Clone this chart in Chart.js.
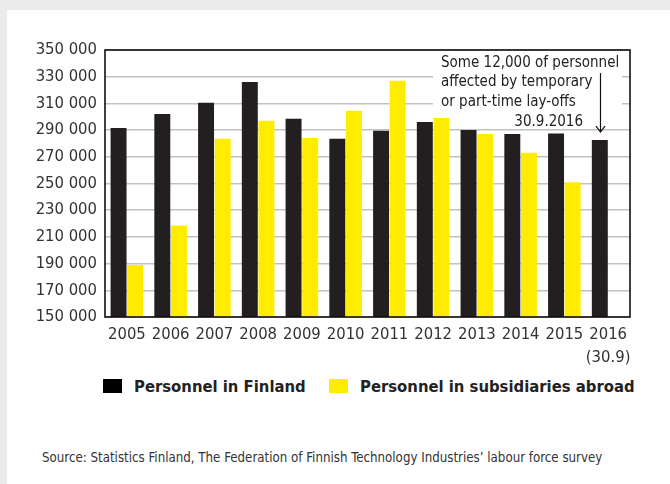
<!DOCTYPE html>
<html>
<head>
<meta charset="utf-8">
<script src="https://cdn.jsdelivr.net/npm/chart.js@4"></script>
<style>
  body { margin: 0; background: #ebebeb; width: 670px; height: 484px; overflow: hidden; position: relative; }
  #panel { position: absolute; left: 7px; top: 10px; right: 0; bottom: 0; background: #fff; }
  #chart { position: absolute; left: 0; top: 0; }
  .legend { position: absolute; top: 377px; font: bold 16.5px "DejaVu Sans Condensed", sans-serif; color: #222; }
  .legend span.box { display: inline-block; width: 19px; height: 14px; vertical-align: -1px; margin-right: 12px; }
  #source { position: absolute; left: 42px; top: 450px; font: 13.2px "DejaVu Sans Condensed", sans-serif; color: #333; }
</style>
</head>
<body>
<div id="panel"></div>
<canvas id="chart" width="670" height="372"></canvas>
<div class="legend" style="left:103px"><span class="box" style="background:#000"></span>Personnel in Finland</div>
<div class="legend" style="left:329px"><span class="box" style="background:#ffec00"></span>Personnel in subsidiaries abroad</div>
<div id="source">Source: Statistics Finland, The Federation of Finnish Technology Industries’ labour force survey</div>
<script>
const years = ['2005', '2006', '2007', '2008', '2009', '2010', '2011', '2012', '2013', '2014', '2015', ['2016', '(30.9)']];
const personnelFinland = [291500, 302000, 310500, 326000, 298500, 283500, 289500, 296000, 290000, 287000, 287500, 282500];
const personnelAbroad = [189000, 218500, 283500, 297000, 284000, 304500, 327000, 303000, 287000, 273000, 251000, null];
const yTicks = [150000, 170000, 190000, 210000, 230000, 250000, 270000, 290000, 310000, 330000, 350000];
const noteLines = ['Some 12,000 of personnel', 'affected by temporary', 'or part-time lay-offs'];
const noteDate = '30.9.2016';

const FONT = '"DejaVu Sans Condensed", sans-serif';

const frameAndNote = {
  id: 'frameAndNote',
  afterDatasetsDraw(chart) {
    const ctx = chart.ctx;
    const a = chart.chartArea;
    ctx.save();
    // plot frame
    ctx.strokeStyle = '#111';
    ctx.lineWidth = 1.6;
    ctx.strokeRect(a.left, a.top, a.right - a.left, a.bottom - a.top);

    // note box with text
    ctx.fillStyle = '#fff';
    ctx.fillRect(433, 54, 189, 64);
    ctx.fillStyle = '#222';
    ctx.font = '15px ' + FONT;
    ctx.textBaseline = 'middle';
    ctx.textAlign = 'left';
    noteLines.forEach((t, i) => ctx.fillText(t, 441, 63 + i * 19.5));
    ctx.textAlign = 'right';
    ctx.fillText(noteDate, 583, 122);

    // arrow down to the 2016 bar
    const bar = chart.getDatasetMeta(0).data[personnelFinland.length - 1];
    const x = Math.round(bar.x) + 0.5;
    const tip = bar.y - 8;
    ctx.strokeStyle = '#111';
    ctx.lineWidth = 1.2;
    ctx.beginPath();
    ctx.moveTo(x, 73);
    ctx.lineTo(x, tip);
    ctx.moveTo(x - 4.5, tip - 6);
    ctx.lineTo(x, tip);
    ctx.lineTo(x + 4.5, tip - 6);
    ctx.stroke();
    ctx.restore();
  }
};

new Chart(document.getElementById('chart'), {
  type: 'bar',
  data: {
    labels: years,
    datasets: [
      { label: 'Personnel in Finland', data: personnelFinland, backgroundColor: '#231f20' },
      { label: 'Personnel in subsidiaries abroad', data: personnelAbroad, backgroundColor: '#ffec00' }
    ]
  },
  options: {
    responsive: false,
    animation: false,
    devicePixelRatio: 1,
    categoryPercentage: 0.76,
    barPercentage: 0.96,
    layout: { padding: { left: 0, top: 50, right: 40, bottom: 0 } },
    plugins: {
      legend: { display: false },
      tooltip: { enabled: false }
    },
    scales: {
      x: {
        grid: { display: false },
        border: { display: false },
        ticks: {
          color: '#333',
          font: { family: FONT, size: 16.5, lineHeight: 1.4 },
          padding: -2,
          maxRotation: 0,
          autoSkip: false
        },
        afterFit(scale) { scale.height = 55; }
      },
      y: {
        min: 150000,
        max: 350000,
        grid: { color: '#c2c2c2', lineWidth: 1.5, drawTicks: false },
        border: { display: false },
        afterBuildTicks(scale) { scale.ticks = yTicks.map(v => ({ value: v })); },
        ticks: {
          color: '#333',
          padding: 8,
          font: { family: FONT, size: 16.5 },
          callback: v => String(v).replace(/\B(?=(\d{3})+(?!\d))/g, ' ')
        },
        afterFit(scale) { scale.width = 105; }
      }
    }
  },
  plugins: [frameAndNote]
});
</script>
</body>
</html>
